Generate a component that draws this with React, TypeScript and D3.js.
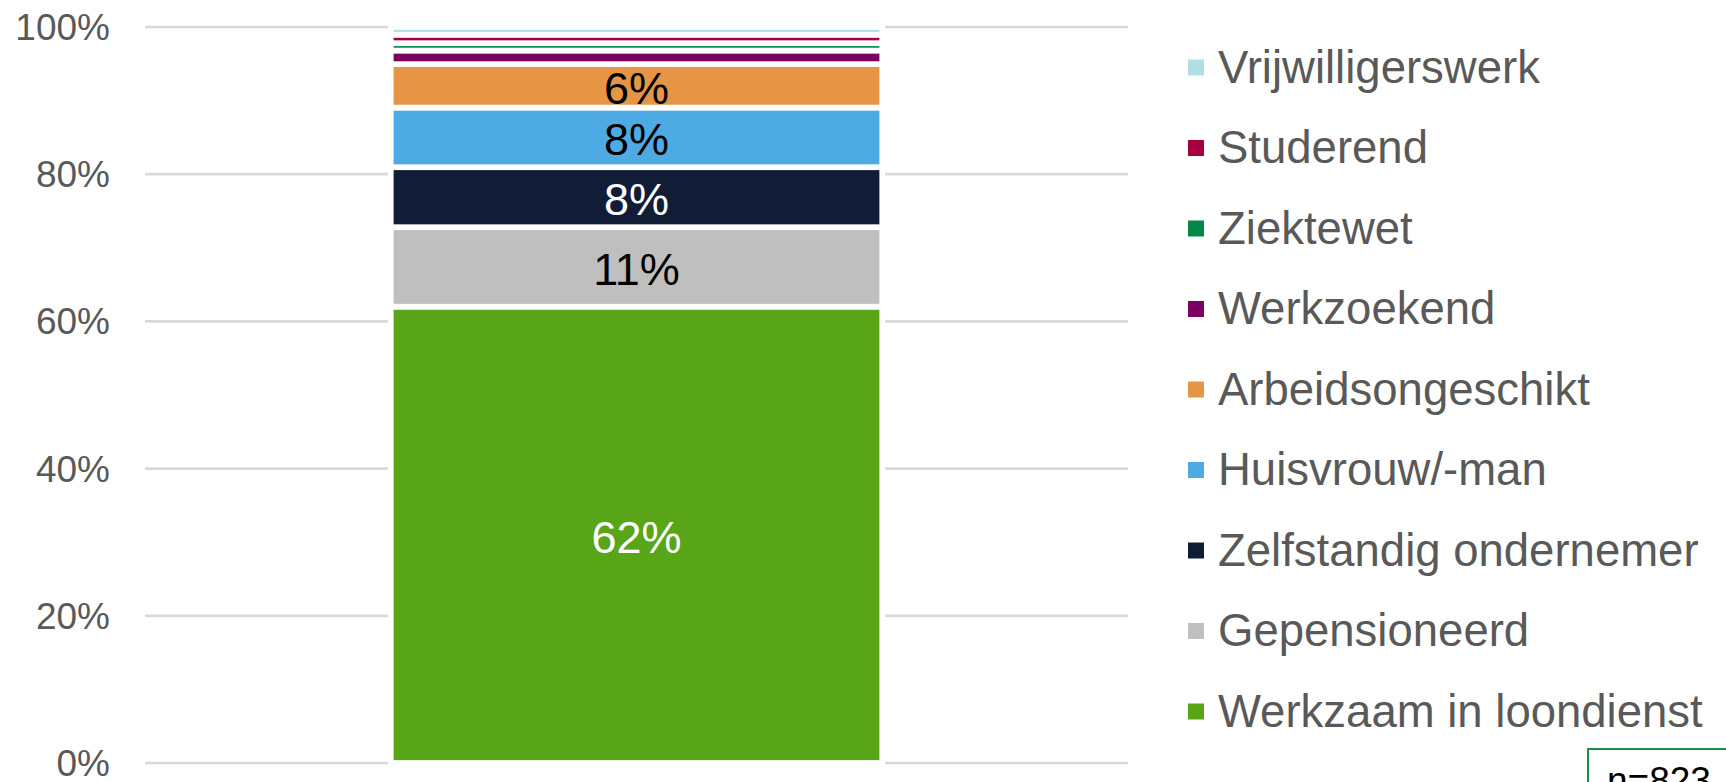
import React from "react";
import * as d3 from "d3";

const categories = [
  "Werkzaam in loondienst",
  "Gepensioneerd",
  "Zelfstandig ondernemer",
  "Huisvrouw/-man",
  "Arbeidsongeschikt",
  "Werkzoekend",
  "Ziektewet",
  "Studerend",
  "Vrijwilligerswerk",
];
const values = [62.0, 10.8, 8.15, 8.1, 5.9, 1.85, 1.0, 1.15, 1.05];
const labels = ["62%", "11%", "8%", "8%", "6%", "", "", "", ""];
const colors = [
  "#58a618",
  "#bfbfbf",
  "#111d37",
  "#4eaae3",
  "#e69545",
  "#7b0060",
  "#008845",
  "#a50042",
  "#b0dde6",
];
const labelColors = ["#ffffff", "#000000", "#ffffff", "#000000", "#000000", "#000", "#000", "#000", "#000"];
const yTicks = [0, 20, 40, 60, 80, 100];
const groups = ["Totaal"];
const sampleNote = "n=823";

const W = 1726;
const H = 782;
const FONT = "'Liberation Sans', Arial, sans-serif";

export default function App() {
  const y = d3.scaleLinear().domain([0, 100]).range([763, 27]);
  const x = d3.scaleBand().domain(groups).range([145, 1128]).paddingInner(0).paddingOuter(0.5);

  const row: Record<string, number> = { group: 0 } as any;
  categories.forEach((c, i) => (row[c] = values[i]));
  const stacked = d3.stack<any>().keys(categories)([row]);

  const legendItems = categories.map((c, i) => ({ c, color: colors[i] })).reverse();
  const legendY = d3.scalePoint<string>().domain(legendItems.map((d) => d.c)).range([67.5, 711.5]);

  return (
    <svg
      width={W}
      height={H}
      style={{ position: "absolute", left: 0, top: 0, background: "#fff" }}
      fontFamily={FONT}
    >
      {yTicks.map((t) => (
        <g key={t}>
          <line x1={145} x2={1128} y1={y(t)} y2={y(t)} stroke="#d9d9d9" strokeWidth={2.7} />
          <text x={110} y={y(t) + 13} textAnchor="end" fontSize={37} fill="#595959">
            {t}%
          </text>
        </g>
      ))}
      {stacked.map((s, i) => {
        const d = s[0];
        const x0 = x(groups[0])!;
        const bw = x.bandwidth();
        const yTop = y(d[1]);
        const yBot = y(d[0]);
        return (
          <g key={categories[i]}>
            <rect
              x={x0}
              y={yTop}
              width={bw}
              height={yBot - yTop}
              fill={colors[i]}
              stroke="#ffffff"
              strokeWidth={5.7}
            />
            {labels[i] && (
              <text
                x={x0 + bw / 2}
                y={(yTop + yBot) / 2 + 18}
                textAnchor="middle"
                fontSize={45}
                fill={labelColors[i]}
              >
                {labels[i]}
              </text>
            )}
          </g>
        );
      })}
      {legendItems.map((d) => (
        <g key={d.c} transform={`translate(0, ${legendY(d.c)})`}>
          <rect x={1188} y={-8} width={16} height={16} fill={d.color} />
          <text x={1218} y={15} fontSize={45.5} fill="#595959">
            {d.c}
          </text>
        </g>
      ))}
      <rect x={1588} y={749} width={160} height={60} fill="#fff" stroke="#1e8c4e" strokeWidth={2} />
      <text x={1607} y={793} fontSize={37} fill="#000">
        {sampleNote}
      </text>
    </svg>
  );
}
